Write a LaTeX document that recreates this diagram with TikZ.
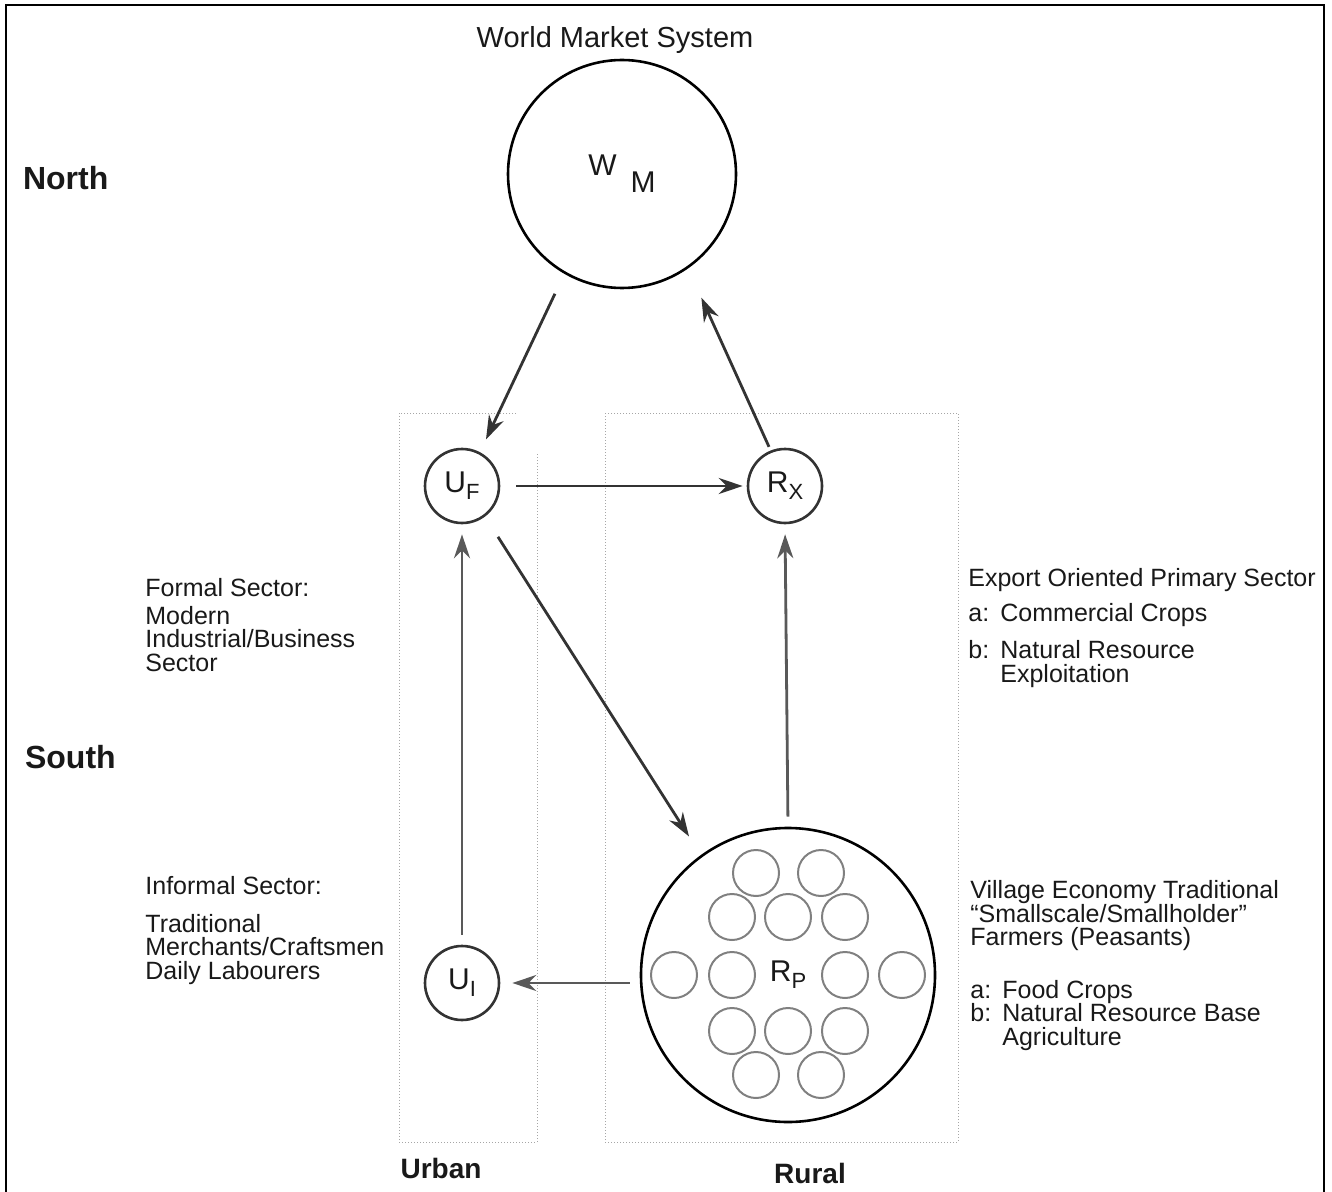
\documentclass[tikz,border=0pt]{standalone}
\usepackage{fontspec}
\setmainfont{Liberation Sans}
\usetikzlibrary{arrows.meta}
\tikzset{
  sector/.style={circle, draw=black!80, line width=1.3pt, minimum size=37pt, inner sep=0pt,
    font=\fontsize{15}{15}\selectfont, text=black!90},
  flow/.style={line width=1.4pt, draw=black!80, -{Stealth[length=12pt,width=8pt]}},
  field/.style={draw=black!35, line width=0.5pt, densely dotted},
  village/.style={draw=black!50, line width=1pt},
  note/.style={anchor=north west, inner sep=0pt, align=left,
    font=\fontsize{12.5}{11.75}\selectfont, text=black!90},
  region/.style={font=\bfseries\fontsize{16}{16}\selectfont, text=black!90},
}
\newcommand{\lowidx}[1]{\raisebox{-3.5pt}{\fontsize{11}{11}\selectfont #1}}
\newcommand{\itemlab}[1]{\makebox[16pt][l]{#1}}
\begin{document}
\begin{tikzpicture}[x=0.5pt,y=-0.5pt]
                \useasboundingbox (0,0) rectangle (1332,1192);
                \draw[line width=1pt] (6,1192) -- (6,5) -- (1324,5) -- (1324,1192);
                % fields
                \draw[field] (516,413) -- (399,413) -- (399,1142) -- (537,1142) -- (537,452);
                \draw[field] (605,413) rectangle (958,1142);
                % sectors
                \node[sector, minimum size=114pt, draw=black] (wm) at (622,174) {W\hspace{7pt}\raisebox{-8.5pt}{M}};
                \node[sector] (uf) at (462,486) {U\lowidx{F}};
                \node[sector] (rx) at (785,486) {R\lowidx{X}};
                \node[sector] (ui) at (462,983) {U\lowidx{I}};
                \node[sector, minimum size=147pt, draw=black] (rp) at (788,975) {R\lowidx{P}};
                % villages
                \draw[village] (756,873) circle (11.5pt);
                \draw[village] (821,873) circle (11.5pt);
                \draw[village] (732,917) circle (11.5pt);
                \draw[village] (788,917) circle (11.5pt);
                \draw[village] (845,917) circle (11.5pt);
                \draw[village] (674,975) circle (11.5pt);
                \draw[village] (732,975) circle (11.5pt);
                \draw[village] (845,975) circle (11.5pt);
                \draw[village] (902,975) circle (11.5pt);
                \draw[village] (732,1031) circle (11.5pt);
                \draw[village] (788,1031) circle (11.5pt);
                \draw[village] (845,1031) circle (11.5pt);
                \draw[village] (756,1075) circle (11.5pt);
                \draw[village] (821,1075) circle (11.5pt);
                % flows
                \draw[flow, shorten <=11pt, shorten >=7pt] (wm.240) -- (uf.62);
                \draw[flow, shorten <=2pt, shorten >=16pt] (rx.112) -- (wm.-55);
                \draw[flow, shorten <=8pt, shorten >=2pt] (uf.east) -- (rx.west);
                \draw[flow, shorten <=12pt, shorten >=11pt] (uf.-53) -- (rp.126);
                \draw[flow, draw=black!65, shorten <=5pt, shorten >=5pt] (rp.north) -- (rx.south);
                \draw[flow, draw=black!65, shorten <=5pt, shorten >=6pt] (rp.west |- ui.east) -- (ui.east);
                \draw[flow, draw=black!65, shorten <=5pt, shorten >=5pt] (ui.north) -- (uf.south);
                % labels
                \node[font=\fontsize{14.5}{14.5}\selectfont, text=black!90] (title) at (615,40) {World Market System};
                \node[region, anchor=west] (north) at (16,178) {North};
                \node[region, anchor=west] (south) at (18,757) {South};
                \node[region, font=\bfseries\fontsize{14}{14}\selectfont] (urban) at (441,1168) {Urban};
                \node[region, font=\bfseries\fontsize{14}{14}\selectfont] (rural) at (810,1173) {Rural};
                \node[note] (formal) at (145,578) {Formal Sector:\\[2pt] Modern\\ Industrial/Business\\ Sector};
                \node[note] (informal) at (145,876) {Informal Sector:\\[7pt] Traditional\\ Merchants/Craftsmen\\ Daily Labourers};
                \node[note] (export) at (968,568) {Export Oriented Primary Sector\\[5.5pt] \itemlab{a:}Commercial Crops\\[7pt] \itemlab{b:}Natural Resource\\ \itemlab{}Exploitation};
                \node[note] (village) at (970,880) {Village Economy Traditional\\ ``Smallscale/Smallholder''\\ Farmers (Peasants)\\[14.5pt] \itemlab{a:}Food Crops\\ \itemlab{b:}Natural Resource Base\\ \itemlab{}Agriculture};
\end{tikzpicture}
\end{document}
